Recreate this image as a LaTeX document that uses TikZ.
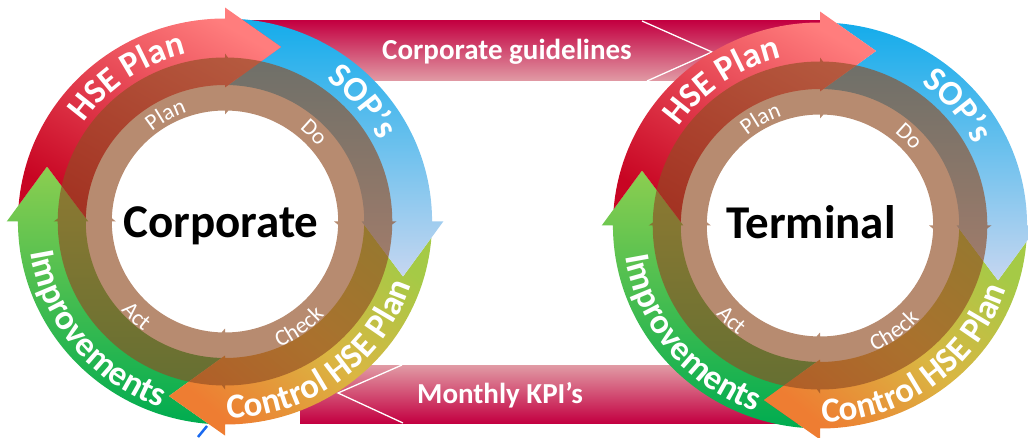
\documentclass[tikz,border=0pt]{standalone}
\usepackage{fontspec}
\setmainfont{Carlito}
\usetikzlibrary{decorations.text,calc}

\definecolor{redA}{RGB}{200,5,35}
\definecolor{redB}{RGB}{255,125,125}
\definecolor{blueA}{RGB}{20,172,235}
\definecolor{blueB}{RGB}{198,214,240}
\definecolor{ygA}{RGB}{165,202,70}
\definecolor{ygM}{RGB}{218,182,66}
\definecolor{orA}{RGB}{238,125,50}
\definecolor{grA}{RGB}{0,172,80}
\definecolor{grB}{RGB}{140,206,80}
\definecolor{brownR}{RGB}{145,77,35}
\definecolor{bandA}{RGB}{195,0,65}
\definecolor{bandB}{RGB}{225,155,165}
\definecolor{lineblue}{RGB}{25,105,240}

\newcommand\OutFont{\fontsize{35}{35}\selectfont\bfseries}
\newcommand\InFont{\fontsize{23}{23}\selectfont}

% outer coloured arrow, tail at angle #1, head 90 degrees clockwise further
\newcommand\OuterArrow[2]{%
 \shade[#2] ({#1-4.6}:203) arc[start angle={#1-4.6}, end angle={#1-90}, radius=203]
   -- ({#1-90}:214) -- ({#1-107.5}:183) -- ({#1-90}:134) -- ({#1-90}:136.5)
   arc[start angle={#1-90}, end angle={#1-1.4}, radius=136.5]
   -- ({#1-17.5}:183) -- cycle;}
% head of an inner brown arrow (counter-clockwise sub-path)
\newcommand\InnerHead[1]{({#1}:107) -- ({#1-10}:137.5) -- ({#1}:168) -- cycle}
% text on clockwise arc (upper half)
\newcommand\CWText[4]{% #1 angle, #2 radius, #3 font, #4 text
 \path[decorate, decoration={text along path, text={|#3|#4}, text align=center, text color=white}]
   ({#1+75}:#2) arc[start angle={#1+75}, end angle={#1-75}, radius=#2];}
% text on counter-clockwise arc (lower half)
\newcommand\CCWText[4]{%
 \path[decorate, decoration={text along path, text={|#3|#4}, text align=center, text color=white}]
   ({#1-80}:#2) arc[start angle={#1-80}, end angle={#1+80}, radius=#2];}

\newcommand\CycleAt[1]{%
 \begin{scope}[shift={(#1)}, xscale=1.02]
  \OuterArrow{-90}{top color=grB, bottom color=grA}
  \OuterArrow{0}{top color=ygA, bottom color=orA, middle color=ygM, shading angle=-40}
  \OuterArrow{90}{top color=blueA, bottom color=blueB}
  \OuterArrow{180}{top color=redB, bottom color=redA, shading angle=-30}
  % brown PDCA ring: one path, non-zero rule, so overlaps are filled once
  \fill[brownR, fill opacity=0.65, nonzero rule]
    (0:164) arc[start angle=0, end angle=360, radius=164]
    (0:111) arc[start angle=360, end angle=0, radius=111]
    \InnerHead{90} \InnerHead{0} \InnerHead{-90} \InnerHead{180};
 \end{scope}
 \begin{scope}[shift={(#1)}]
  \CWText{124}{172}{\OutFont}{HSE Plan}
  \CWText{41}{174}{\OutFont}{SOP’s}
  \CCWText{-54}{197}{\OutFont}{Control HSE Plan}
  \CCWText{220}{197}{\OutFont}{Improvements}
  \CWText{119}{116}{\InFont}{Plan}
  \CWText{45}{119}{\InFont}{Do}
  \CCWText{-55}{137}{\InFont}{Check}
  \CCWText{227}{137}{\InFont}{Act}
 \end{scope}}

\tikzset{
  bigtxt/.style={font=\fontsize{47}{47}\selectfont\bfseries, anchor=base, inner sep=0},
  bandtxt/.style={font=\fontsize{29}{29}\selectfont\bfseries, text=white, inner sep=0},
  chev/.style={white, line width=1.3pt}
}

\begin{document}
\begin{tikzpicture}[x=1pt, y=1pt]
\useasboundingbox (0,0) rectangle (1028,437);
\clip (0,0) rectangle (1028,437);

\coordinate (cL) at (225,215.5);
\coordinate (cR) at (820,211.5);

% connecting bands
\shade[top color=bandA, bottom color=bandB] (240,356) rectangle (822,416);
\coordinate (g1) at (642,416);
\coordinate (g2) at (712,385);
\coordinate (g3) at (647,356);
\draw[chev] (g1) -- (g2) -- (g3);
\node[bandtxt] (guide) at (507,385) {Corporate guidelines};

\shade[top color=bandB, bottom color=bandA] (300,14) rectangle (800,72);
\coordinate (k1) at (402,72);
\coordinate (k2) at (338,44);
\coordinate (k3) at (403,14);
\draw[chev] (k1) -- (k2) -- (k3);
\node[bandtxt] (kpi) at (500,42) {Monthly KPI’s};

% cycles
\CycleAt{cL}
\CycleAt{cR}

% centre titles
\node[bigtxt] (corp) at (221,200) {Corporate};
\node[bigtxt] (term) at (811,199) {Terminal};

% small blue stroke at the bottom
\coordinate (b1) at (198,0);
\coordinate (b2) at (207,11);
\draw[lineblue, line width=2.5pt] (b1) -- (b2);
\end{tikzpicture}
\end{document}
